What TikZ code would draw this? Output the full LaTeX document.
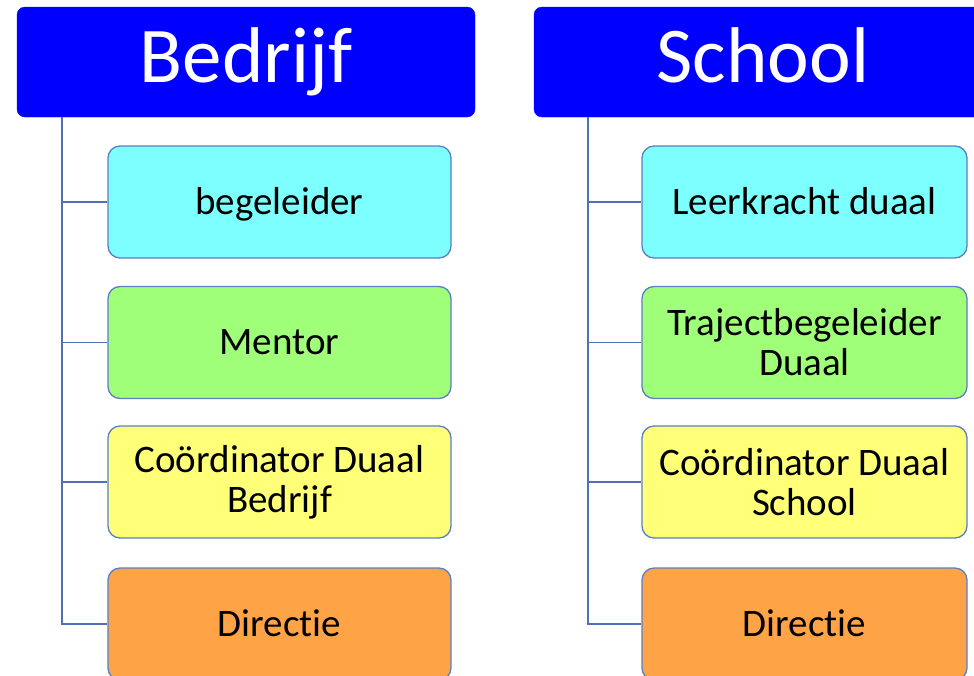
\documentclass[tikz,border=0pt]{standalone}
\usepackage{fontspec}
\setmainfont{Carlito}[Ligatures=NoCommon]
\definecolor{hdrblue}{HTML}{0000FF}
\definecolor{cyanbox}{HTML}{7DFFFF}
\definecolor{greenbox}{HTML}{A0FF78}
\definecolor{yellowbox}{HTML}{FFFF78}
\definecolor{orangebox}{HTML}{FFA347}
\definecolor{edgeblue}{HTML}{5B7FC4}
\definecolor{linkblue}{HTML}{5070B8}
\begin{document}
\begin{tikzpicture}[x=1pt,y=-1pt,
  header/.style={draw=hdrblue, fill=hdrblue, rounded corners=8pt, text=white,
    minimum width=458pt, minimum height=110pt, inner sep=0pt,
    text height=60pt, text depth=20pt,
    font=\fontsize{79}{95}\selectfont},
  child/.style={draw=edgeblue, line width=1.3pt, rounded corners=12pt, text=black,
    minimum height=112pt, inner sep=0pt, align=center,
    font=\fontsize{39}{40}\selectfont},
  oneline/.style={text height=28pt, text depth=4pt},
  link/.style={draw=linkblue, line width=1.6pt}
]
\useasboundingbox (0,0) rectangle (974,675);
\clip (0,0) rectangle (974,675);

% Bedrijf column
\node[header] (bh) at (246,62) {Bedrijf};
\node[child, oneline, fill=cyanbox, minimum width=343pt] (b1) at (279.5,202) {begeleider};
\node[child, oneline, fill=greenbox, minimum width=343pt] (b2) at (279.5,342.5) {Mentor};
\node[child, fill=yellowbox, minimum width=343pt] (b3) at (279.5,482) {Coördinator Duaal\\Bedrijf};
\node[child, oneline, fill=orangebox, minimum width=343pt] (b4) at (279.5,624) {Directie};
\coordinate (bt) at (62,117);
\draw[link] (bt) |- (b4.west);
\draw[link] (bt |- b1.west) -- (b1.west);
\draw[link] (bt |- b2.west) -- (b2.west);
\draw[link] (bt |- b3.west) -- (b3.west);

% School column
\node[header] (sh) at (763,62) {School};
\node[child, oneline, fill=cyanbox, minimum width=325pt] (s1) at (804.5,202) {Leerkracht duaal};
\node[child, fill=greenbox, minimum width=325pt] (s2) at (804.5,342.5) {Trajectbegeleider\\Duaal};
\node[child, fill=yellowbox, minimum width=325pt] (s3) at (804.5,482) {Coördinator Duaal\\School};
\node[child, oneline, fill=orangebox, minimum width=325pt] (s4) at (804.5,624) {Directie};
\coordinate (st) at (588,117);
\draw[link] (st) |- (s4.west);
\draw[link] (st |- s1.west) -- (s1.west);
\draw[link] (st |- s2.west) -- (s2.west);
\draw[link] (st |- s3.west) -- (s3.west);
\end{tikzpicture}
\end{document}
